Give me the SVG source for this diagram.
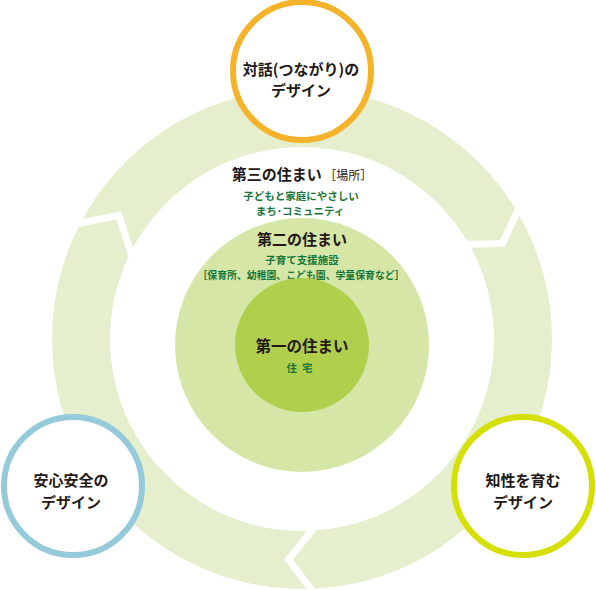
<svg xmlns="http://www.w3.org/2000/svg" width="596" height="590" viewBox="0 0 596 590">
  <style>
    text { font-family: "Noto Sans CJK JP", "Noto Sans", sans-serif; text-anchor: middle; }
    .t { font-size: 15px; font-weight: 700; fill: #231815; }
    .s { font-size: 10.5px; font-weight: 700; fill: #17773a; }
    .gap { fill: none; stroke: #ffffff; stroke-width: 7; stroke-linejoin: miter; }
    .ring { fill: #e5efcd; fill-rule: evenodd; }
    .node { fill: #ffffff; stroke-width: 6; }
  </style>
  <g id="connectors">
    <path class="ring" d="M302 89 A250 250 0 1 1 301.99 89 Z M302 147 A192 192 0 1 0 302.01 147 Z"/>
    <polyline class="gap" points="520.3,205.2 502.4,243.4 462.3,244.6"/>
    <polyline class="gap" points="315.4,594.6 288.5,559.6 316.6,524.4"/>
    <polyline class="gap" points="72.9,224.8 118.8,215.4 133.4,260.4"/>
  </g>
  <g id="second-home">
    <circle cx="302" cy="345" r="127" fill="#d5e6a6"/>
    <text class="t" x="302" y="245">第二の住まい</text>
    <text class="s" x="302" y="264">子育て支援施設</text>
    <text class="s" x="301" y="278.5" textLength="207" lengthAdjust="spacingAndGlyphs">［保育所、幼稚園、こども園、学童保育など］</text>
  </g>
  <g id="first-home">
    <circle cx="302" cy="345" r="67" fill="#b0d04d"/>
    <text class="t" x="302" y="352" style="font-size:15.5px">第一の住まい</text>
    <text class="s" x="302" y="372" letter-spacing="5">住宅</text>
  </g>
  <g id="third-home">
    <text class="t" x="302" y="180"><tspan>第三の住まい</tspan><tspan style="font-size:12px;font-weight:400"> ［場所］</tspan></text>
    <text class="s" x="301" y="200">子どもと家庭にやさしい</text>
    <text class="s" x="300" y="214.5">まち･コミュニティ</text>
  </g>
  <g id="dialogue-design">
    <circle class="node" cx="302" cy="71" r="69" stroke="#f5b22b"/>
    <text class="t" x="301" y="75">対話(つながり)の</text>
    <text class="t" x="301" y="96">デザイン</text>
  </g>
  <g id="safety-design">
    <circle class="node" cx="73" cy="486" r="69" stroke="#95cadb"/>
    <text class="t" x="71" y="486">安心安全の</text>
    <text class="t" x="71" y="508">デザイン</text>
  </g>
  <g id="intellect-design">
    <circle class="node" cx="523" cy="486" r="69" stroke="#d5df00"/>
    <text class="t" x="523" y="486">知性を育む</text>
    <text class="t" x="523" y="508">デザイン</text>
  </g>
</svg>
